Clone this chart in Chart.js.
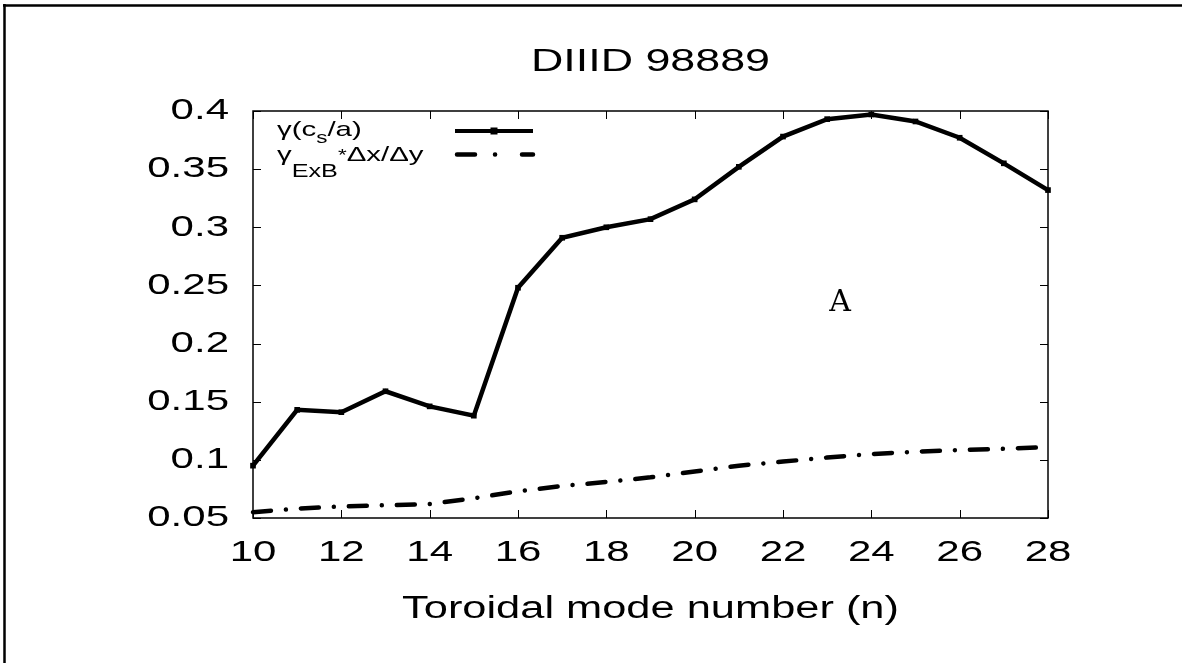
<!DOCTYPE html>
<html><head><meta charset="utf-8">
<script src="https://cdn.jsdelivr.net/npm/chart.js@4.4.1/dist/chart.umd.min.js"></script>
<style>html,body{margin:0;padding:0;background:#fff;}canvas{display:block;}</style>
</head><body>
<canvas id="c" width="1182" height="663"></canvas>
<script>
// ---- data ----
const modes = [10,11,12,13,14,15,16,17,18,19,20,21,22,23,24,25,26,27,28];
const gammaGrowth = [0.095,0.143,0.141,0.159,0.146,0.138,0.248,0.291,0.300,0.307,0.324,0.352,0.378,0.393,0.397,0.391,0.377,0.355,0.332];
const exbShear = [0.055,0.058,0.060,0.061,0.062,0.067,0.073,0.0775,0.081,0.085,0.090,0.095,0.0985,0.102,0.105,0.107,0.1085,0.1095,0.111];
const xTicks = [10,12,14,16,18,20,22,24,26,28];
const yTicks = [0.05,0.1,0.15,0.2,0.25,0.3,0.35,0.4];
const yTickLabels = ['0.05','0.1','0.15','0.2','0.25','0.3','0.35','0.4'];
const titleText = 'DIIID 98889';
const xTitleText = 'Toroidal mode number (n)';
const annotationText = 'A';

const SANS = "'Liberation Sans', Arial, sans-serif";
const SX = 1.4; // horizontal stretch of the reference text

const canvas = document.getElementById('c');
const ctx = canvas.getContext('2d');
const origFill = ctx.fillText.bind(ctx);
ctx.fillText = function(t, x, y) {
  this.save(); this.translate(x, y); this.scale(SX, 1); origFill(t, 0, 0); this.restore();
};

function drawRuns(c, x, runs) {
  for (const r of runs) {
    c.font = r.size + 'px ' + SANS;
    c.fillText(r.t, x, r.y);
    x += c.measureText(r.t).width * SX;
  }
}

const decorPlugin = {
  id: 'decor',
  beforeDatasetsDraw(chart) {
    const c = chart.ctx, a = chart.chartArea, xs = chart.scales.x, ys = chart.scales.y;
    c.save();
    c.strokeStyle = '#000';
    c.lineWidth = 1.5;
    c.strokeRect(a.left, a.top, a.right - a.left, a.bottom - a.top);
    c.lineWidth = 1;
    c.beginPath();
    xTicks.forEach(v => {
      const px = Math.round(xs.getPixelForValue(v)) + 0.5;
      c.moveTo(px, a.bottom); c.lineTo(px, a.bottom - 8);
      c.moveTo(px, a.top); c.lineTo(px, a.top + 8);
    });
    yTicks.forEach(v => {
      const py = Math.round(ys.getPixelForValue(v)) + 0.5;
      c.moveTo(a.left, py); c.lineTo(a.left + 8, py);
      c.moveTo(a.right, py); c.lineTo(a.right - 8, py);
    });
    c.stroke();
    // outer page border (top and left)
    c.lineWidth = 2.5;
    c.beginPath();
    c.moveTo(3, 5.5); c.lineTo(1182, 5.5);
    c.moveTo(4.5, 4); c.lineTo(4.5, 663);
    c.stroke();
    // chart title, centred over the plot area
    c.fillStyle = '#000';
    c.font = '32px ' + SANS;
    c.textAlign = 'center';
    c.textBaseline = 'middle';
    c.fillText(titleText, (a.left + a.right) / 2, 62);
    c.restore();
  },
  afterDatasetsDraw(chart) {
    const c = chart.ctx;
    c.save();
    c.fillStyle = '#000';
    c.textAlign = 'left';
    c.textBaseline = 'alphabetic';
    drawRuns(c, 277, [
      {t: 'γ(c', size: 21, y: 136},
      {t: 's', size: 16, y: 143},
      {t: '/a)', size: 21, y: 136}
    ]);
    drawRuns(c, 277, [
      {t: 'γ', size: 21, y: 161},
      {t: 'ExB', size: 18, y: 177},
      {t: '*', size: 16, y: 161},
      {t: 'Δx/Δy', size: 21, y: 161}
    ]);
    // legend samples
    c.strokeStyle = '#000';
    c.lineWidth = 4;
    c.beginPath(); c.moveTo(455, 131); c.lineTo(533, 131); c.stroke();
    c.fillRect(490.5, 127.5, 7, 7);
    c.lineWidth = 4.5;
    c.lineCap = 'round';
    c.beginPath();
    c.moveTo(457, 154.5); c.lineTo(475, 154.5);
    c.moveTo(495, 154.5); c.lineTo(495.1, 154.5);
    c.moveTo(522, 154.5); c.lineTo(533, 154.5);
    c.stroke();
    // annotation "A"
    c.font = "30px 'DejaVu Serif', 'Liberation Serif', serif";
    c.textAlign = 'center';
    origFill(annotationText, 840, 311);
    c.restore();
  }
};

new Chart(ctx, {
  type: 'line',
  data: {
    datasets: [
      {
        label: 'gamma',
        data: modes.map((m, i) => ({x: m, y: gammaGrowth[i]})),
        borderColor: '#000', backgroundColor: '#000',
        borderWidth: 4.5, tension: 0,
        pointStyle: 'rect', pointRadius: 4,
        pointBackgroundColor: '#000', pointBorderColor: '#000', pointBorderWidth: 0,
        clip: false
      },
      {
        label: 'exb',
        data: modes.map((m, i) => ({x: m, y: exbShear[i]})),
        borderColor: '#000', borderWidth: 4.5, tension: 0,
        borderDash: [18, 15, 0.01, 15], borderCapStyle: 'round',
        pointRadius: 0, clip: false
      }
    ]
  },
  options: {
    responsive: false,
    animation: false,
    events: [],
    layout: {padding: {left: 0, right: 134, top: 111, bottom: 0}},
    plugins: {
      legend: {display: false},
      tooltip: {enabled: false},
      title: {display: false}
    },
    scales: {
      x: {
        type: 'linear', min: 10, max: 28,
        afterBuildTicks: s => { s.ticks = xTicks.map(v => ({value: v})); },
        afterFit: s => { s.height = 145; },
        grid: {display: false, drawTicks: false},
        border: {display: false},
        ticks: {color: '#000', font: {family: SANS, size: 30}, padding: 17, maxRotation: 0, autoSkip: false,
                callback: v => String(v)},
        title: {display: true, text: xTitleText, color: '#000', font: {family: SANS, size: 31},
                padding: {top: 0, bottom: 35}}
      },
      y: {
        type: 'linear', min: 0.05, max: 0.4,
        afterBuildTicks: s => { s.ticks = yTicks.map(v => ({value: v})); },
        afterFit: s => { s.width = 253; },
        grid: {display: false, drawTicks: false},
        border: {display: false},
        ticks: {color: '#000', font: {family: SANS, size: 30}, padding: 24, autoSkip: false,
                callback: (v, i) => yTickLabels[i]}
      }
    }
  },
  plugins: [decorPlugin]
});
</script>
</body></html>
